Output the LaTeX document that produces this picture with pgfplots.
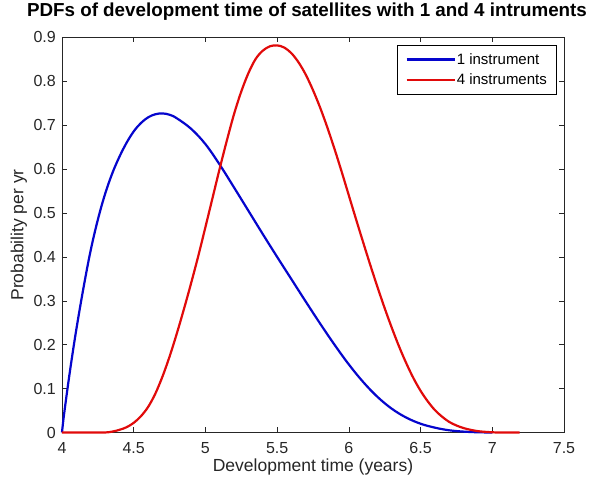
\documentclass[border=0pt]{standalone}
\usepackage{pgfplots}
\pgfplotsset{compat=1.18}
\usepackage{fontspec}
\setmainfont{Liberation Sans}
\definecolor{mblue}{RGB}{5,5,205}
\definecolor{mred}{RGB}{225,10,10}
\begin{document}
\begin{tikzpicture}
\begin{axis}[
  scale only axis,
  width=502pt, height=395pt,
  xmin=4, xmax=7.5, ymin=0, ymax=0.9,
  enlargelimits=false,
  clip=false,
  xtick={4,4.5,5,5.5,6,6.5,7,7.5},
  ytick={0,0.1,0.2,0.3,0.4,0.5,0.6,0.7,0.8,0.9},
  tick align=inside,
  tick pos=both,
  major tick length=5pt,
  tick style={black!85, line width=0.6pt},
  axis line style={black!85, line width=0.8pt},
  /pgf/number format/assume math mode=true,
  ticklabel style={font=\fontsize{16}{18}\selectfont, text=black!85},
  xticklabel style={anchor=base, yshift=-20.7pt},
  yticklabel style={anchor=east, inner sep=0pt, xshift=-6pt},
  title={PDFs of development time of satellites with 1 and 4 intruments},
  title style={font=\bfseries\fontsize{18.8}{22}\selectfont, at={(axis description cs:0.488,1.0392)}, anchor=base, inner sep=0pt},
  xlabel={Development time (years)},
  every axis x label/.style={at={(axis description cs:0.5,-0.0975)}, anchor=base, inner sep=0pt, font=\fontsize{17.5}{20}\selectfont, text=black!85},
  ylabel={Probability per yr},
  every axis y label/.style={at={(axis description cs:-0.0767,0.5)}, rotate=90, anchor=base, inner sep=0pt, font=\fontsize{17.5}{20}\selectfont, text=black!85},
  legend style={at={(axis description cs:0.986,0.981)}, anchor=north east, draw=black, line width=0.8pt, fill=white,
    font=\fontsize{15}{18}\selectfont, inner xsep=8.7pt, inner ysep=7pt, row sep=6pt,
    nodes={inner sep=1pt}, cells={anchor=west}},
  legend image code/.code={\draw[#1] (0pt,0pt) -- (48pt,0pt);},
]
\addplot[mblue, line width=2.2pt, smooth, tension=0.6] coordinates {
(4.000,0.000) (4.010,0.030) (4.030,0.080) (4.060,0.150) (4.100,0.235)
(4.150,0.330) (4.200,0.415) (4.250,0.485) (4.300,0.543) (4.350,0.590)
(4.400,0.628) (4.450,0.660) (4.500,0.686) (4.550,0.705) (4.600,0.718)
(4.650,0.725) (4.700,0.727) (4.750,0.724) (4.800,0.716) (4.900,0.692)
(5.000,0.657) (5.100,0.610) (5.200,0.558) (5.300,0.505) (5.400,0.452)
(5.500,0.400) (5.600,0.349) (5.700,0.298) (5.800,0.248) (5.900,0.200)
(6.000,0.155) (6.100,0.115) (6.200,0.081) (6.300,0.054) (6.400,0.034)
(6.500,0.020) (6.600,0.011) (6.700,0.005) (6.800,0.002) (6.900,0.0005)
(7.000,0.000)
};
\addlegendentry{1 instrument}
\addplot[mred, line width=2.2pt, smooth, tension=0.55] coordinates {
(4.000,0.000) (4.200,0.000) (4.300,0.000) (4.350,0.002) (4.400,0.006)
(4.450,0.012) (4.500,0.022) (4.550,0.037) (4.600,0.058) (4.650,0.088)
(4.700,0.127) (4.750,0.173) (4.800,0.225) (4.850,0.281) (4.900,0.340)
(4.950,0.402) (5.000,0.468) (5.050,0.535) (5.100,0.602) (5.150,0.666)
(5.200,0.726) (5.250,0.777) (5.300,0.819) (5.350,0.851) (5.400,0.870)
(5.450,0.880) (5.500,0.882) (5.550,0.877) (5.600,0.864) (5.650,0.843)
(5.700,0.815) (5.750,0.780) (5.800,0.740) (5.850,0.695) (5.900,0.646)
(5.950,0.594) (6.000,0.540) (6.050,0.486) (6.100,0.433) (6.150,0.381)
(6.200,0.331) (6.250,0.283) (6.300,0.238) (6.350,0.196) (6.400,0.158)
(6.450,0.124) (6.500,0.095) (6.550,0.071) (6.600,0.051) (6.650,0.036)
(6.700,0.024) (6.750,0.016) (6.800,0.010) (6.850,0.006) (6.900,0.003)
(6.950,0.0015) (7.000,0.0005) (7.050,0.000) (7.190,0.000)
};
\addlegendentry{4 instruments}
\end{axis}
\pgfresetboundingbox
\path[use as bounding box] (-62pt,-45.5pt) rectangle (536pt,432.5pt);
\end{tikzpicture}
\end{document}
